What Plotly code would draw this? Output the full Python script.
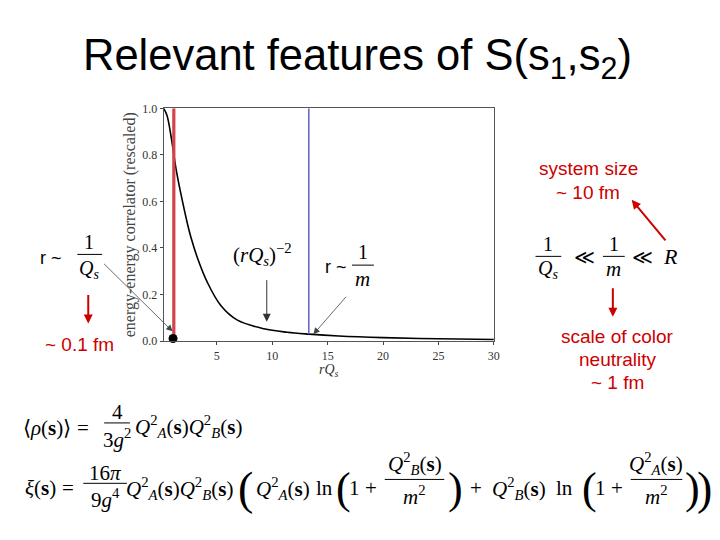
import plotly.graph_objects as go

W, H = 720, 540
SERIF = "Liberation Serif"
SANS = "Liberation Sans, Arial"
RED = "#cc0000"

# curve data
r_qs = [0.2, 0.5, 0.87, 1.32, 1.77, 2.37, 2.67, 3.27, 4.17, 5.36, 6.86, 9.25, 11.35, 13.3, 16, 20, 25, 30]
corr = [1.0, 0.97, 0.88, 0.74, 0.63, 0.50, 0.445, 0.355, 0.25, 0.153, 0.09, 0.053, 0.038, 0.03, 0.022, 0.015, 0.01, 0.007]

red_x = 1.12
blue_x = 13.3
dot_x = [1.05, 13.3]
dot_y = [0.011, -0.007]

x_ticks = [5, 10, 15, 20, 25, 30]
y_ticks = [0.0, 0.2, 0.4, 0.6, 0.8, 1.0]

fig = go.Figure()
fig.add_trace(go.Scatter(x=r_qs, y=corr, mode="lines", line=dict(color="black", width=1.6, shape="spline"),
                         showlegend=False, hoverinfo="skip"))
fig.add_trace(go.Scatter(x=[red_x, red_x], y=[0, 1], mode="lines", line=dict(color="#d4434c", width=3.2),
                         showlegend=False, hoverinfo="skip"))
fig.add_trace(go.Scatter(x=[blue_x, blue_x], y=[0.03, 1], mode="lines", line=dict(color="#6a6ac4", width=1.6),
                         showlegend=False, hoverinfo="skip"))
fig.add_trace(go.Scatter(x=dot_x, y=dot_y, mode="markers", marker=dict(color="black", size=9),
                         showlegend=False, hoverinfo="skip", cliponaxis=False))

fig.update_layout(
    width=W, height=H, margin=dict(l=0, r=0, t=0, b=0),
    paper_bgcolor="white", plot_bgcolor="white",
    font=dict(family=SERIF, color="#333"),
    xaxis=dict(domain=[165 / W, 498 / W], range=[0.2, 30], tickvals=x_ticks, ticks="outside", ticklen=3,
               showgrid=False, zeroline=False, showline=True, mirror=True, linecolor="#555", linewidth=1,
               tickfont=dict(size=12, family=SERIF, color="#333"),
               title=dict(text="<i>rQ<sub>s</sub></i>", font=dict(size=14, family=SERIF, color="#333"), standoff=0)),
    yaxis=dict(domain=[1 - 343 / H, 1 - 104 / H], range=[0, 1], tickvals=y_ticks, tickformat=".1f",
               ticks="outside", ticklen=3,
               showgrid=False, zeroline=False, showline=True, mirror=True, linecolor="#555", linewidth=1,
               tickfont=dict(size=12, family=SERIF, color="#333"),
               title=dict(text="energy-energy correlator (rescaled)", font=dict(size=16, family=SERIF, color="#444"),
                          standoff=2)),
)


def txt(x, y, s, size=21, color="black", family=SERIF, anchor="center"):
    fig.add_annotation(x=x / W, y=1 - y / H, xref="paper", yref="paper", text=s, showarrow=False,
                       font=dict(size=size, color=color, family=family), xanchor=anchor, yanchor="middle")


def hline(x0, x1, y, color="black"):
    fig.add_shape(type="line", xref="paper", yref="paper", x0=x0 / W, x1=x1 / W, y0=1 - y / H, y1=1 - y / H,
                  line=dict(color=color, width=1))


def arrow(tx, ty, hx, hy, color="black", width=1, head=2, size=1.2):
    fig.add_annotation(x=hx / W, y=1 - hy / H, xref="paper", yref="paper", ax=tx - hx, ay=ty - hy,
                       axref="pixel", ayref="pixel", text="", showarrow=True, arrowhead=head,
                       arrowcolor=color, arrowwidth=width, arrowsize=size)


# Title
txt(360, 52, "Relevant features of S(s<sub>1</sub>,s<sub>2</sub>)", size=43.5, family=SANS)

# Left: r ~ 1/Qs
txt(51, 258, "r ~", size=18, family=SANS)
txt(90, 241, "1", size=20)
hline(78, 103, 254)
txt(90, 269, "<i>Q<sub>s</sub></i>", size=20)
arrow(104, 264, 174, 333, color="#444", width=0.8, head=2, size=1.6)
arrow(89, 295, 89, 325, color=RED, width=2, head=2, size=0.9)
txt(80, 346, "~ 0.1 fm", size=19, color=RED, family=SANS)

# (rQs)^-2
txt(265, 254, "(<i>rQ<sub>s</sub></i>)<sup>−2</sup>", size=21)
arrow(269, 280, 269, 323, color="#333", width=1, head=2, size=1.6)

# r ~ 1/m
txt(339, 267, "r ~", size=18, family=SANS)
txt(366, 252, "1", size=20)
hline(355, 377, 265)
txt(366, 279, "<i>m</i>", size=21)
arrow(350, 297, 316, 336, color="#444", width=0.8, head=2, size=1.6)

# Right side
txt(593, 166, "system size", size=19, color=RED, family=SANS)
txt(593, 190, "~ 10 fm", size=19, color=RED, family=SANS)
txt(553, 243, "1", size=20)
hline(540, 566, 256)
txt(553, 269, "<i>Q<sub>s</sub></i>", size=20)
txt(589, 257, "≪", size=20, family="DejaVu Sans")
txt(619, 243, "1", size=20)
hline(608, 630, 256)
txt(619, 269, "<i>m</i>", size=21)
txt(648, 257, "≪", size=20, family="DejaVu Sans")
txt(676, 256, "<i>R</i>", size=22)
arrow(672, 240, 637, 198, color=RED, width=2, head=2, size=0.9)
arrow(618, 288, 618, 318, color=RED, width=2, head=2, size=0.9)
txt(623, 338, "scale of color", size=19, color=RED, family=SANS)
txt(623, 362, "neutrality", size=19, color=RED, family=SANS)
txt(623, 386, "~ 1 fm", size=19, color=RED, family=SANS)

# Formula 1
QA = "<i>Q</i><sup>2</sup><sub><i>A</i></sub>(<b>s</b>)"
QB = "<i>Q</i><sup>2</sup><sub><i>B</i></sub>(<b>s</b>)"
txt(21, 432, "⟨<i>ρ</i>(<b>s</b>)⟩", anchor="left")
txt(84, 432, "=")
txt(118, 416, "4")
hline(105, 131, 427)
txt(118, 443, "3<i>g</i><sup>2</sup>")
txt(134, 431, QA + QB, anchor="left")

# Formula 2
txt(23, 494, "<i>ξ</i>(<b>s</b>)", anchor="left")
txt(69, 494, "=")
txt(106, 478, "16<i>π</i>")
hline(84, 128, 489)
txt(106, 505, "9<i>g</i><sup>4</sup>")
txt(125, 494, QA + QB, anchor="left")
txt(248, 494, "(", size=46)
txt(256, 494, QA, anchor="left")
txt(317, 494, "ln", anchor="left")
txt(346, 494, "(", size=44)
txt(357, 494, "1")
txt(374, 494, "+")
txt(418, 469, QB)
hline(388, 448, 485)
txt(418, 502, "<i>m</i><sup>2</sup>")
txt(459, 494, ")", size=44)
txt(480, 494, "+")
txt(494, 494, QB, anchor="left")
txt(559, 494, "ln", anchor="left")
txt(594, 494, "(", size=44)
txt(606, 494, "1")
txt(622, 494, "+")
txt(662, 469, QA)
hline(636, 688, 485)
txt(662, 502, "<i>m</i><sup>2</sup>")
txt(698, 494, ")", size=44)
txt(710, 494, ")", size=46)

fig.write_html(
    "out.html", config={"displayModeBar": False},
    post_script=("var d=document.getElementById('{plot_id}');d.style.position='fixed';d.style.left='0';"
                 "d.style.top='0';document.body.style.margin='0';"
                 "document.documentElement.style.overflow='hidden';document.body.style.overflow='hidden';"))
